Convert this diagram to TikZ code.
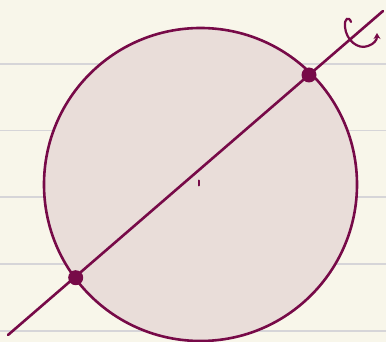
\documentclass[tikz,border=0pt]{standalone}
\usetikzlibrary{arrows.meta}
\definecolor{paper}{HTML}{F8F6EA}
\definecolor{rule}{HTML}{D6D5D8}
\definecolor{plum}{HTML}{770A48}
\definecolor{disk}{HTML}{E9DDD9}
\begin{document}
\begin{tikzpicture}[x=1pt,y=-1pt,
  ruleline/.style={rule,line width=1.6pt},
  ink/.style={plum,line width=2.6pt,line cap=round},
  dotmark/.style={circle,fill=plum,inner sep=0pt,minimum size=15pt}]
\fill[paper] (0,0) rectangle (386,342);
\useasboundingbox (0,0) rectangle (386,342);
\foreach \y in {64,130.7,197.3,264,330.7}
  \draw[ruleline] (0,\y) -- (386,\y);
\filldraw[fill=disk,draw=plum,line width=2.6pt] (200.5,184.5) circle (156.5);
\coordinate (lo) at (8,335);
\coordinate (hi) at (383,11);
\draw[ink] (lo) -- (hi);
\node[dotmark] (p1) at (75.7,277.7) {};
\node[dotmark] (p2) at (309,75) {};
\draw[ink,line width=2pt] (199,180.5) -- (199,185.5);
\draw[ink,line width=2.2pt,-{Stealth[length=6pt,width=7pt]}]
  (351,22) .. controls (349,16) and (344,18) .. (345,27)
  .. controls (346,40) and (358,50) .. (368,46)
  .. controls (374,44) and (377,40) .. (377,33);
\end{tikzpicture}
\end{document}
